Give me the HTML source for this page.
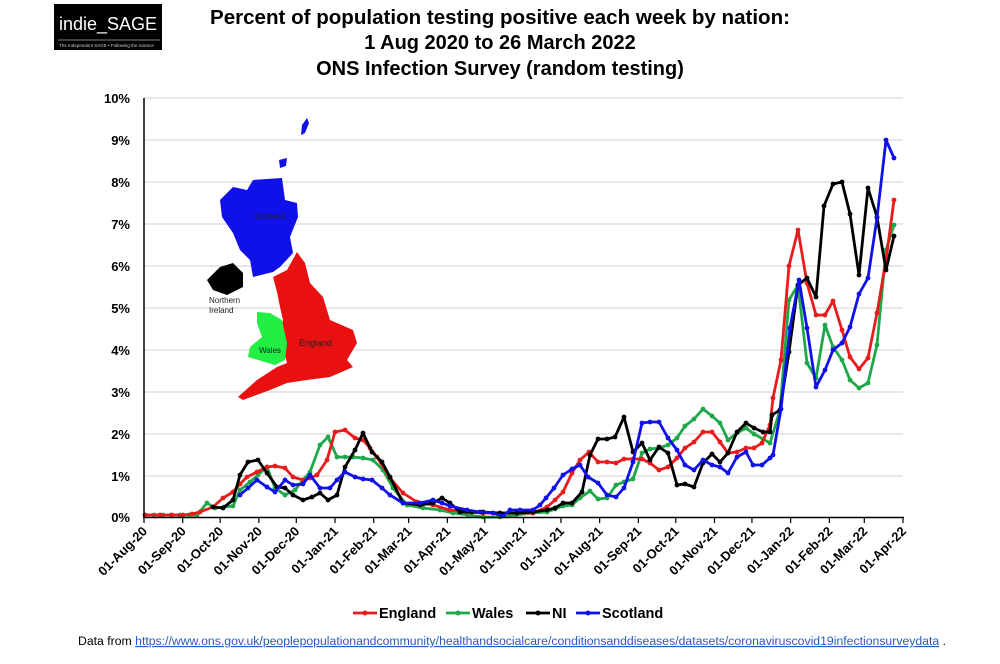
<!DOCTYPE html>
<html><head><meta charset="utf-8"><style>
body{margin:0;background:#fff;width:1000px;height:659px;overflow:hidden;font-family:"Liberation Sans",Arial,sans-serif}
</style></head><body>
<svg width="1000" height="659" viewBox="0 0 1000 659" xmlns="http://www.w3.org/2000/svg" font-family="Liberation Sans, Arial, sans-serif">
<defs>
<marker id="mr" markerWidth="6" markerHeight="6" refX="3" refY="3" markerUnits="userSpaceOnUse"><circle cx="3" cy="3" r="2.4" fill="#e81c1c"/></marker>
<marker id="mg" markerWidth="6" markerHeight="6" refX="3" refY="3" markerUnits="userSpaceOnUse"><circle cx="3" cy="3" r="2.4" fill="#1ea84a"/></marker>
<marker id="mk" markerWidth="6" markerHeight="6" refX="3" refY="3" markerUnits="userSpaceOnUse"><circle cx="3" cy="3" r="2.4" fill="#000"/></marker>
<marker id="mb" markerWidth="6" markerHeight="6" refX="3" refY="3" markerUnits="userSpaceOnUse"><circle cx="3" cy="3" r="2.4" fill="#1010e8"/></marker>
</defs>
<!-- logo -->
<rect x="54" y="4" width="108" height="46" fill="#000"/>
<text x="59" y="30" fill="#fff" font-size="18" textLength="98" lengthAdjust="spacingAndGlyphs">indie_SAGE</text>
<line x1="58" y1="40" x2="160" y2="40" stroke="#aaa" stroke-width="0.8"/>
<text x="59" y="47" fill="#ccc" font-size="4.5">The Independent SAGE • Following the science</text>
<!-- title -->
<g font-weight="bold" font-size="20" text-anchor="middle" fill="#000">
<text x="500" y="24" textLength="580" lengthAdjust="spacingAndGlyphs">Percent of population testing positive each week by nation:</text>
<text x="500" y="49">1 Aug 2020 to 26 March 2022</text>
<text x="500" y="75">ONS Infection Survey (random testing)</text>
</g>
<!-- gridlines -->
<g stroke="#d9d9d9" stroke-width="1.2">
<line x1="144" y1="98" x2="903" y2="98"/><line x1="144" y1="140" x2="903" y2="140"/><line x1="144" y1="182" x2="903" y2="182"/><line x1="144" y1="224" x2="903" y2="224"/><line x1="144" y1="266" x2="903" y2="266"/><line x1="144" y1="308" x2="903" y2="308"/><line x1="144" y1="350" x2="903" y2="350"/><line x1="144" y1="392" x2="903" y2="392"/><line x1="144" y1="434" x2="903" y2="434"/><line x1="144" y1="476" x2="903" y2="476"/>
</g>
<g font-weight="bold" font-size="13" text-anchor="end" fill="#000">
<text x="130" y="103">10%</text><text x="130" y="145">9%</text><text x="130" y="187">8%</text><text x="130" y="229">7%</text><text x="130" y="271">6%</text><text x="130" y="313">5%</text><text x="130" y="355">4%</text><text x="130" y="397">3%</text><text x="130" y="439">2%</text><text x="130" y="481">1%</text><text x="130" y="522">0%</text>
</g>
<!-- map -->
<polygon fill="#1010e8" points="253,180 282,178 285,200 297,203 298,217 290,237 293,253 280,267 273,272 253,277 250,260 240,250 233,233 222,217 220,200 233,187 247,190"/>
<polygon fill="#1010e8" points="302,125 307,118 309,123 305,133 301,135"/>
<polygon fill="#1010e8" points="279,160 287,158 286,166 280,168"/>
<polygon fill="#e81010" points="297,252 305,263 310,283 323,297 330,320 353,330 357,343 347,360 353,367 330,377 307,380 287,383 270,390 243,400 238,397 257,380 277,367 287,363 280,337 283,320 280,307 277,292 273,277 287,270"/>
<polygon fill="#22ee44" points="257,312 270,313 282,320 287,343 285,360 275,365 248,357 250,347 262,337 257,323"/>
<polygon fill="#000" points="207,280 220,267 233,263 243,273 243,287 227,295 213,290"/>
<g font-size="8" fill="#222">
<text x="254" y="219">Scotland</text>
<text x="209" y="303">Northern</text><text x="209" y="313">Ireland</text>
<text x="259" y="353">Wales</text>
<text x="299" y="346" font-size="9">England</text>
</g>
<!-- series -->
<g fill="none" stroke-width="2.8" stroke-linejoin="round">
<polyline stroke="#1ea84a" marker-start="url(#mg)" marker-mid="url(#mg)" marker-end="url(#mg)" points="145,515 154,515 163,515 171,515 180,515 189,515 197,515 207,503 215,508 224,507 233,506 240,490 250,482 258,475 267,467 275,488 285,495 295,490 303,480 310,472 320,445 328,437 337,457 345,457 353,457 363,458 373,460 383,470 393,488 407,505 423,508 440,510 453,513 468,515 483,517 500,517 516,515 533,513 547,512 555,509 563,506 572,505 580,498 590,491 598,499 607,498 616,485 624,482 633,479 642,453 650,449 659,448 668,445 677,438 685,426 694,419 703,409 712,416 720,423 728,440 737,433 746,428 754,434 763,439 770,443 780,410 789,300 798,285 807,363 816,378 825,325 833,347 842,360 850,380 859,388 868,383 877,345 886,250 894,225"/>
<polyline stroke="#e81c1c" marker-start="url(#mr)" marker-mid="url(#mr)" marker-end="url(#mr)" points="145,515 160,515 172,515 183,515 192,514 200,512 213,507 223,498 233,492 240,484 247,477 257,472 267,467 275,466 285,468 293,477 303,480 310,478 317,475 327,460 335,432 345,430 355,438 363,440 370,448 377,457 390,478 403,493 417,502 433,505 450,510 467,512 483,513 500,513 517,513 533,513 547,507 555,500 563,492 572,473 580,460 589,452 598,462 607,462 616,463 624,459 633,459 642,459 650,463 659,470 668,467 677,458 685,448 694,442 703,432 712,432 720,442 728,453 737,452 746,448 754,448 762,443 770,425 773,398 781,360 789,266 798,230 807,283 816,315 825,315 833,301 842,330 850,357 859,369 868,358 877,313 886,260 894,200"/>
<polyline stroke="#000" marker-start="url(#mk)" marker-mid="url(#mk)" marker-end="url(#mk)" points="213,507 223,508 233,500 240,475 248,462 258,460 267,473 277,487 285,488 293,495 303,500 312,497 320,493 328,500 337,495 345,467 355,450 363,433 372,452 382,462 390,477 403,503 420,505 433,503 442,498 450,503 460,512 472,512 483,512 500,513 517,513 533,512 547,510 555,508 563,503 572,503 582,492 590,455 598,439 607,439 615,437 624,417 633,452 642,443 650,460 659,447 668,453 677,485 685,484 694,487 703,463 712,454 720,462 728,453 737,432 746,423 754,428 763,432 770,432 772,415 780,410 789,352 798,285 807,278 816,297 824,206 833,184 842,182 850,214 859,275 868,188 877,217 886,270 894,236"/>
<polyline stroke="#1010e8" marker-start="url(#mb)" marker-mid="url(#mb)" marker-end="url(#mb)" points="240,495 248,488 257,480 267,487 275,492 285,480 293,485 303,484 310,475 320,488 330,488 337,480 345,472 355,477 363,479 372,480 382,488 390,495 403,503 420,503 433,500 442,503 450,506 467,510 480,512 493,513 503,516 510,510 520,510 533,510 540,505 546,498 554,488 563,475 572,469 580,465 588,477 598,483 607,495 616,497 624,488 633,462 642,423 650,422 659,422 668,438 677,450 685,465 694,470 703,460 712,465 720,467 728,473 737,457 746,452 753,465 762,465 770,458 773,455 781,409 790,328 799,280 807,328 816,387 825,370 833,350 842,343 850,327 859,294 868,278 877,218 886,140 894,158"/>
</g>
<!-- axes -->
<line x1="144" y1="98" x2="144" y2="518" stroke="#000" stroke-width="1.5"/>
<line x1="143" y1="517.5" x2="904" y2="517.5" stroke="#000" stroke-width="1.5"/>
<g stroke="#000" stroke-width="1.2" id="ticks"></g>
<g id="xl" font-weight="bold" font-size="13" text-anchor="end" fill="#000"></g>
<!-- legend -->
<g font-weight="bold" font-size="14.5" fill="#000">
<line x1="353" y1="613" x2="377" y2="613" stroke="#e81c1c" stroke-width="2.8"/><circle cx="365" cy="613" r="2.5" fill="#e81c1c"/><text x="379" y="618">England</text>
<line x1="446" y1="613" x2="470" y2="613" stroke="#1ea84a" stroke-width="2.8"/><circle cx="458" cy="613" r="2.5" fill="#1ea84a"/><text x="472" y="618">Wales</text>
<line x1="526" y1="613" x2="550" y2="613" stroke="#000" stroke-width="2.8"/><circle cx="538" cy="613" r="2.5" fill="#000"/><text x="552" y="618">NI</text>
<line x1="576" y1="613" x2="600" y2="613" stroke="#1010e8" stroke-width="2.8"/><circle cx="588" cy="613" r="2.5" fill="#1010e8"/><text x="602" y="618">Scotland</text>
</g>
<text x="78" y="645" font-size="11.5" fill="#000" textLength="868" lengthAdjust="spacingAndGlyphs">Data from <tspan fill="#1f5fbf" text-decoration="underline">https://www.ons.gov.uk/peoplepopulationandcommunity/healthandsocialcare/conditionsanddiseases/datasets/coronaviruscovid19infectionsurveydata</tspan> .</text>
</svg>
<script>
var labs=["01-Aug-20","01-Sep-20","01-Oct-20","01-Nov-20","01-Dec-20","01-Jan-21","01-Feb-21","01-Mar-21","01-Apr-21","01-May-21","01-Jun-21","01-Jul-21","01-Aug-21","01-Sep-21","01-Oct-21","01-Nov-21","01-Dec-21","01-Jan-22","01-Feb-22","01-Mar-22","01-Apr-22"];
var days=[0,31,61,92,122,153,184,212,243,273,304,334,365,396,426,457,487,518,549,577,608];
var ns="http://www.w3.org/2000/svg",t=document.getElementById("ticks"),g=document.getElementById("xl");
for(var i=0;i<labs.length;i++){var x=144+days[i]*759/608;
var l=document.createElementNS(ns,"line");l.setAttribute("x1",x);l.setAttribute("x2",x);l.setAttribute("y1",517);l.setAttribute("y2",523);t.appendChild(l);
var e=document.createElementNS(ns,"text");e.setAttribute("transform","translate("+(x+4)+",532) rotate(-45)");e.textContent=labs[i];g.appendChild(e);}
</script>
</body></html>
